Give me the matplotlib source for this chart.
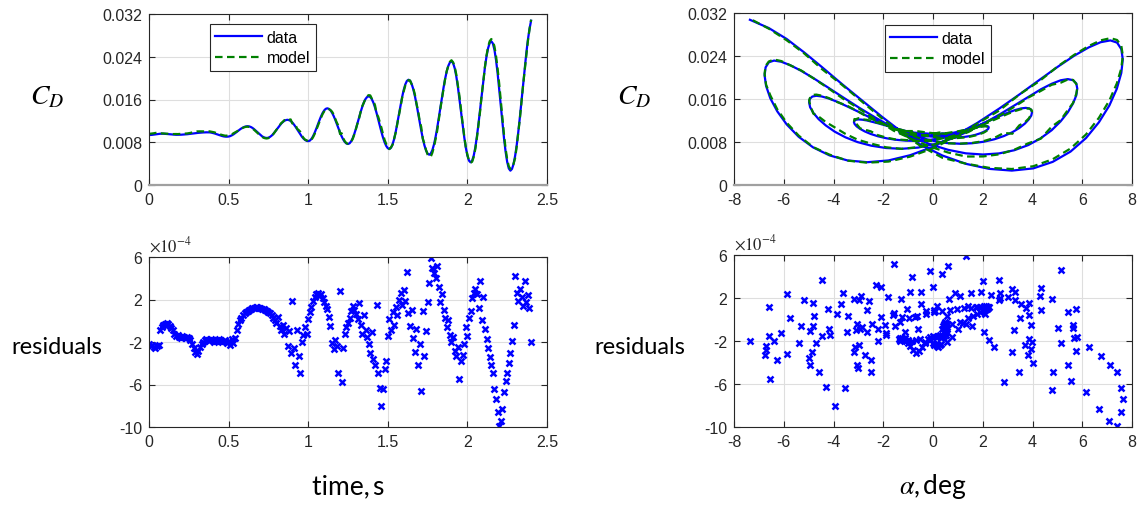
import matplotlib
matplotlib.use('Agg')
import matplotlib.pyplot as plt
import numpy as np

# ---------------- data ----------------
t_start, t_step, n_samples = 0.0, 0.01, 241

alpha_deg = [
    0.00, 0.06, 0.11, 0.17, 0.22, 0.28, 0.32, 0.37, 0.41, 0.44,
    0.48, 0.50, 0.52, 0.54, 0.55, 0.55, 0.54, 0.52, 0.48, 0.43,
    0.37, 0.29, 0.21, 0.11, 0.00, -0.11, -0.22, -0.34, -0.46, -0.58,
    -0.69, -0.80, -0.91, -1.01, -1.09, -1.17, -1.23, -1.28, -1.32, -1.34,
    -1.35, -1.34, -1.29, -1.22, -1.13, -1.01, -0.86, -0.70, -0.52, -0.32,
    -0.11, 0.11, 0.33, 0.56, 0.78, 1.00, 1.21, 1.41, 1.59, 1.75,
    1.90, 2.02, 2.11, 2.18, 2.23, 2.24, 2.22, 2.15, 2.05, 1.90,
    1.72, 1.51, 1.26, 0.98, 0.68, 0.37, 0.04, -0.30, -0.64, -0.98,
    -1.31, -1.62, -1.92, -2.20, -2.45, -2.66, -2.85, -2.99, -3.10, -3.16,
    -3.18, -3.15, -3.07, -2.93, -2.74, -2.50, -2.21, -1.88, -1.52, -1.12,
    -0.71, -0.27, 0.18, 0.63, 1.07, 1.51, 1.92, 2.32, 2.68, 3.01,
    3.30, 3.54, 3.73, 3.87, 3.95, 3.98, 3.95, 3.85, 3.69, 3.47,
    3.19, 2.85, 2.47, 2.04, 1.58, 1.09, 0.57, 0.04, -0.50, -1.04,
    -1.57, -2.09, -2.58, -3.04, -3.47, -3.85, -4.19, -4.47, -4.69, -4.85,
    -4.95, -4.98, -4.94, -4.81, -4.60, -4.31, -3.95, -3.52, -3.03, -2.48,
    -1.89, -1.26, -0.60, 0.07, 0.75, 1.42, 2.08, 2.71, 3.30, 3.85,
    4.34, 4.77, 5.13, 5.42, 5.63, 5.76, 5.80, 5.76, 5.63, 5.42,
    5.13, 4.77, 4.33, 3.83, 3.27, 2.66, 2.01, 1.32, 0.61, -0.12,
    -0.85, -1.58, -2.29, -2.98, -3.63, -4.24, -4.80, -5.30, -5.74, -6.10,
    -6.39, -6.60, -6.73, -6.77, -6.71, -6.54, -6.26, -5.88, -5.40, -4.82,
    -4.16, -3.43, -2.64, -1.79, -0.92, -0.02, 0.88, 1.78, 2.66, 3.50,
    4.29, 5.02, 5.68, 6.26, 6.74, 7.13, 7.40, 7.57, 7.63, 7.57,
    7.39, 7.09, 6.67, 6.15, 5.53, 4.81, 4.03, 3.17, 2.26, 1.32,
    0.38, -0.50, -1.30, -2.08, -2.88, -3.68, -4.45, -5.18, -5.88, -6.60,
    -7.36,
]

# measured drag coefficient, in units of 1e-3
cd_data_milli = [
    9.35, 9.36, 9.39, 9.43, 9.48, 9.52, 9.56, 9.59, 9.60, 9.60,
    9.58, 9.56, 9.53, 9.50, 9.47, 9.44, 9.42, 9.40, 9.40, 9.40,
    9.41, 9.43, 9.45, 9.47, 9.50, 9.54, 9.57, 9.61, 9.65, 9.69,
    9.72, 9.76, 9.79, 9.81, 9.83, 9.85, 9.86, 9.86, 9.85, 9.81,
    9.74, 9.66, 9.56, 9.45, 9.34, 9.25, 9.16, 9.09, 9.05, 9.04,
    9.07, 9.15, 9.29, 9.46, 9.67, 9.90, 10.14, 10.37, 10.58, 10.75,
    10.89, 10.97, 11.00, 10.96, 10.85, 10.68, 10.45, 10.18, 9.90, 9.62,
    9.35, 9.12, 8.95, 8.84, 8.80, 8.85, 9.00, 9.23, 9.53, 9.90,
    10.30, 10.70, 11.10, 11.47, 11.77, 12.01, 12.15, 12.20, 12.14, 11.97,
    11.70, 11.34, 10.91, 10.44, 9.96, 9.49, 9.06, 8.70, 8.43, 8.26,
    8.20, 8.30, 8.61, 9.10, 9.74, 10.48, 11.28, 12.07, 12.81, 13.45,
    13.94, 14.25, 14.35, 14.25, 13.97, 13.51, 12.91, 12.20, 11.41, 10.61,
    9.82, 9.11, 8.51, 8.05, 7.77, 7.67, 7.80, 8.18, 8.79, 9.60,
    10.55, 11.60, 12.67, 13.72, 14.67, 15.48, 16.09, 16.47, 16.60, 16.46,
    16.04, 15.37, 14.47, 13.42, 12.26, 11.08, 9.92, 8.87, 7.98, 7.31,
    6.88, 6.74, 6.96, 7.61, 8.63, 9.98, 11.55, 13.22, 14.89, 16.46,
    17.81, 18.83, 19.48, 19.70, 19.50, 18.90, 17.94, 16.67, 15.18, 13.53,
    11.84, 10.19, 8.70, 7.43, 6.47, 5.88, 5.67, 5.89, 6.54, 7.58,
    8.96, 10.62, 12.47, 14.41, 16.35, 18.20, 19.86, 21.25, 22.29, 22.93,
    23.15, 22.83, 21.88, 20.39, 18.42, 16.13, 13.70, 11.26, 8.97, 7.00,
    5.51, 4.56, 4.24, 4.57, 5.54, 7.08, 9.14, 11.55, 14.21, 16.93,
    19.59, 22.01, 24.06, 25.60, 26.57, 26.90, 26.49, 25.28, 23.36, 20.85,
    17.91, 14.79, 11.67, 8.73, 6.22, 4.30, 3.09, 2.68, 3.00, 3.94,
    5.48, 7.52, 10.01, 12.80, 15.82, 18.86, 21.88, 24.67, 27.16, 29.20,
    30.74,
]

# residuals (data - model), in units of 1e-4
residuals_e4 = [
    -2.2, -2.4, -2.3, -2.5, -2.6, -2.4, -2.3, -0.9, -0.6, -0.4,
    -0.3, -0.2, -0.3, -0.5, -0.7, -0.9, -1.2, -1.4, -1.3, -1.5,
    -1.6, -1.4, -1.5, -1.6, -1.5, -1.6, -1.8, -2.2, -2.6, -2.9,
    -3.1, -2.8, -2.5, -2.2, -2.0, -1.8, -1.7, -1.8, -1.9, -1.7,
    -1.8, -2.0, -1.9, -1.8, -1.7, -1.9, -2.0, -1.9, -1.8, -2.1,
    -1.9, -2.3, -1.7, -2.1, -1.6, -0.9, -0.3, 0.1, 0.3, 0.5,
    0.7, 0.8, 0.9, 1.0, 1.1, 1.2, 1.2, 1.3, 1.3, 1.2,
    1.2, 1.1, 1.1, 1.0, 0.9, 0.8, 0.7, 0.5, 0.3, 0.1,
    -0.2, 0.4, -0.5, -0.9, -0.4, -1.2, -0.7, -2.4, -1.0, -3.0,
    1.9, -2.6, -4.2, -0.9, -3.3, -4.9, -2.0, -1.3, -0.6, -1.2,
    0.2, 0.8, 1.3, 1.9, 2.2, 2.5, 2.6, 2.3, 2.5, 2.1,
    1.8, 1.4, 1.1, 0.4, -0.5, -2.1, -2.7, -1.8, -2.4, -4.9,
    2.8, -5.8, -2.6, -1.2, -0.6, -0.2, 0.3, 0.9, 1.4, 1.0,
    0.6, 0.2, 1.7, -0.4, -1.2, 0.5, -0.9, -1.5, -2.2, -3.0,
    -1.1, -3.6, -4.2, 1.5, -4.9, -6.3, -8.0, -6.4, -4.5, -3.8,
    -1.4, 0.2, -0.9, 0.8, -0.4, 1.3, 0.5, 2.0, 2.6, 1.5,
    2.9, 1.9, 4.6, 0.7, -0.5, 1.0, -1.6, -2.9, -0.8, -4.2,
    -2.2, -6.6, 0.9, -3.3, -1.0, 1.8, 3.6, 5.9, 5.0, 4.5,
    4.0, 5.2, 3.2, 1.8, 2.5, 1.0, 0.3, -0.6, 0.1, -1.3,
    -2.0, -1.5, -2.8, -3.3, -2.5, -5.5, -3.8, -3.2, -2.2, -0.6,
    -1.4, 0.3, 0.9, 2.1, 2.6, 3.0, 2.5, 1.2, 3.7, 0.1,
    2.2, -0.8, -1.7, -2.6, -3.4, -4.2, -4.9, -6.4, -7.4, -8.6,
    -9.9, -9.4, -8.3, -6.7, -5.7, -4.9, -4.0, -3.0, -1.9, -0.4,
    4.2, 2.6, 1.9, 3.0, 2.2, 1.4, 3.7, 1.8, 2.4, 1.2,
    -2.0,
]

cd_yticks = [0, 0.008, 0.016, 0.024, 0.032]
cd_ytick_labels = ['0', '0.008', '0.016', '0.024', '0.032']
time_xticks = [0, 0.5, 1, 1.5, 2, 2.5]
time_xtick_labels = ['0', '0.5', '1', '1.5', '2', '2.5']
alpha_xticks = [-8, -6, -4, -2, 0, 2, 4, 6, 8]
res_yticks = [-10, -6, -2, 2, 6]

# ---------------- derived arrays ----------------
time_s = t_start + t_step * np.arange(n_samples)
alpha = np.array(alpha_deg)
cd_data = np.array(cd_data_milli) * 1e-3
res = np.array(residuals_e4)
cd_model = cd_data - res * 1e-4

# ---------------- figure ----------------
plt.rcParams['font.family'] = ['Liberation Sans', 'DejaVu Sans']
plt.rcParams['mathtext.fontset'] = 'stix'
plt.rcParams['axes.unicode_minus'] = False

W, H = 1141, 506
fig = plt.figure(figsize=(W / 100, H / 100), dpi=100)


def px_axes(x0, y0, x1, y1):
    return fig.add_axes([x0 / W, 1 - y1 / H, (x1 - x0) / W, (y1 - y0) / H])


ax1 = px_axes(149, 15, 547, 186)
ax2 = px_axes(734, 14, 1132, 186)
ax3 = px_axes(149, 258, 547, 428)
ax4 = px_axes(734, 256, 1132, 428)

dark = '#262626'
BLUE = (0, 0, 1)
GREEN = (0, 0.5, 0)


def style(ax, gray_bottom=False):
    ax.set_axisbelow(True)
    ax.grid(True, color='#dedede', lw=0.8)
    ax.tick_params(direction='in', top=True, right=True, length=4,
                   width=0.8, labelsize=11.5, colors=dark, pad=5)
    for s in ax.spines.values():
        s.set_color(dark)
        s.set_linewidth(0.8)
    if gray_bottom:
        ax.spines['bottom'].set_color('#a0a0a0')
        ax.spines['bottom'].set_linewidth(1.6)


for ax in (ax1, ax2):
    style(ax, gray_bottom=True)
for ax in (ax3, ax4):
    style(ax)

dash = (0, (3.4, 2.0))

# top-left: CD vs time
ax1.plot(time_s, cd_data, color=BLUE, lw=1.6, label='data')
ax1.plot(time_s, cd_model, color=GREEN, lw=1.6, ls=dash, label='model')
ax1.set_xlim(0, 2.5)
ax1.set_ylim(0, 0.032)
ax1.set_xticks(time_xticks)
ax1.set_xticklabels(time_xtick_labels)
ax1.set_yticks(cd_yticks)
ax1.set_yticklabels(cd_ytick_labels)

# top-right: CD vs alpha
ax2.plot(alpha, cd_data, color=BLUE, lw=1.6, label='data')
ax2.plot(alpha, cd_model, color=GREEN, lw=1.6, ls=dash, label='model')
ax2.set_xlim(-8, 8)
ax2.set_ylim(0, 0.032)
ax2.set_xticks(alpha_xticks)
ax2.set_yticks(cd_yticks)
ax2.set_yticklabels(cd_ytick_labels)

for ax, anchor in ((ax1, (0.153, 0.942)), (ax2, (0.379, 0.930))):
    leg = ax.legend(loc='upper left', bbox_to_anchor=anchor, borderaxespad=0,
                    fontsize=11.5, handlelength=2.9, handletextpad=0.3,
                    labelspacing=0.35, borderpad=0.35, fancybox=False,
                    framealpha=1, edgecolor=dark)
    leg.get_frame().set_linewidth(0.8)

# bottom: residuals
ax3.plot(time_s, res, 'x', color=BLUE, ms=4.5, mew=1.8)
ax3.set_xlim(0, 2.5)
ax3.set_ylim(-10, 6)
ax3.set_xticks(time_xticks)
ax3.set_xticklabels(time_xtick_labels)
ax3.set_yticks(res_yticks)

ax4.plot(alpha, res, 'x', color=BLUE, ms=4.5, mew=1.8)
ax4.set_xlim(-8, 8)
ax4.set_ylim(-10, 6)
ax4.set_xticks(alpha_xticks)
ax4.set_yticks(res_yticks)

for ax in (ax3, ax4):
    ax.text(0.0, 1.01, r'$\times 10^{-4}$', transform=ax.transAxes,
            ha='left', va='bottom', fontsize=12, color=dark,
            family='DejaVu Sans')

# labels
lab_font = ['Lato', 'DejaVu Sans']
fig.text(47 / W, 1 - 97 / H, r'$C_D$', fontsize=20, ha='center', va='center')
fig.text(634 / W, 1 - 97 / H, r'$C_D$', fontsize=20, ha='center', va='center')
fig.text(57 / W, 1 - 348 / H, 'residuals', fontsize=17, ha='center',
         va='center', family=lab_font)
fig.text(640 / W, 1 - 348 / H, 'residuals', fontsize=17, ha='center',
         va='center', family=lab_font)
fig.text(348 / W, 1 - 487 / H, 'time,\u2009s', fontsize=19, ha='center',
         va='center', family=lab_font)
fig.text(933 / W, 1 - 487 / H, r'$\alpha$,$\,$deg', fontsize=19, ha='center',
         va='center', family=lab_font)

fig.savefig('out.png', dpi=100)
